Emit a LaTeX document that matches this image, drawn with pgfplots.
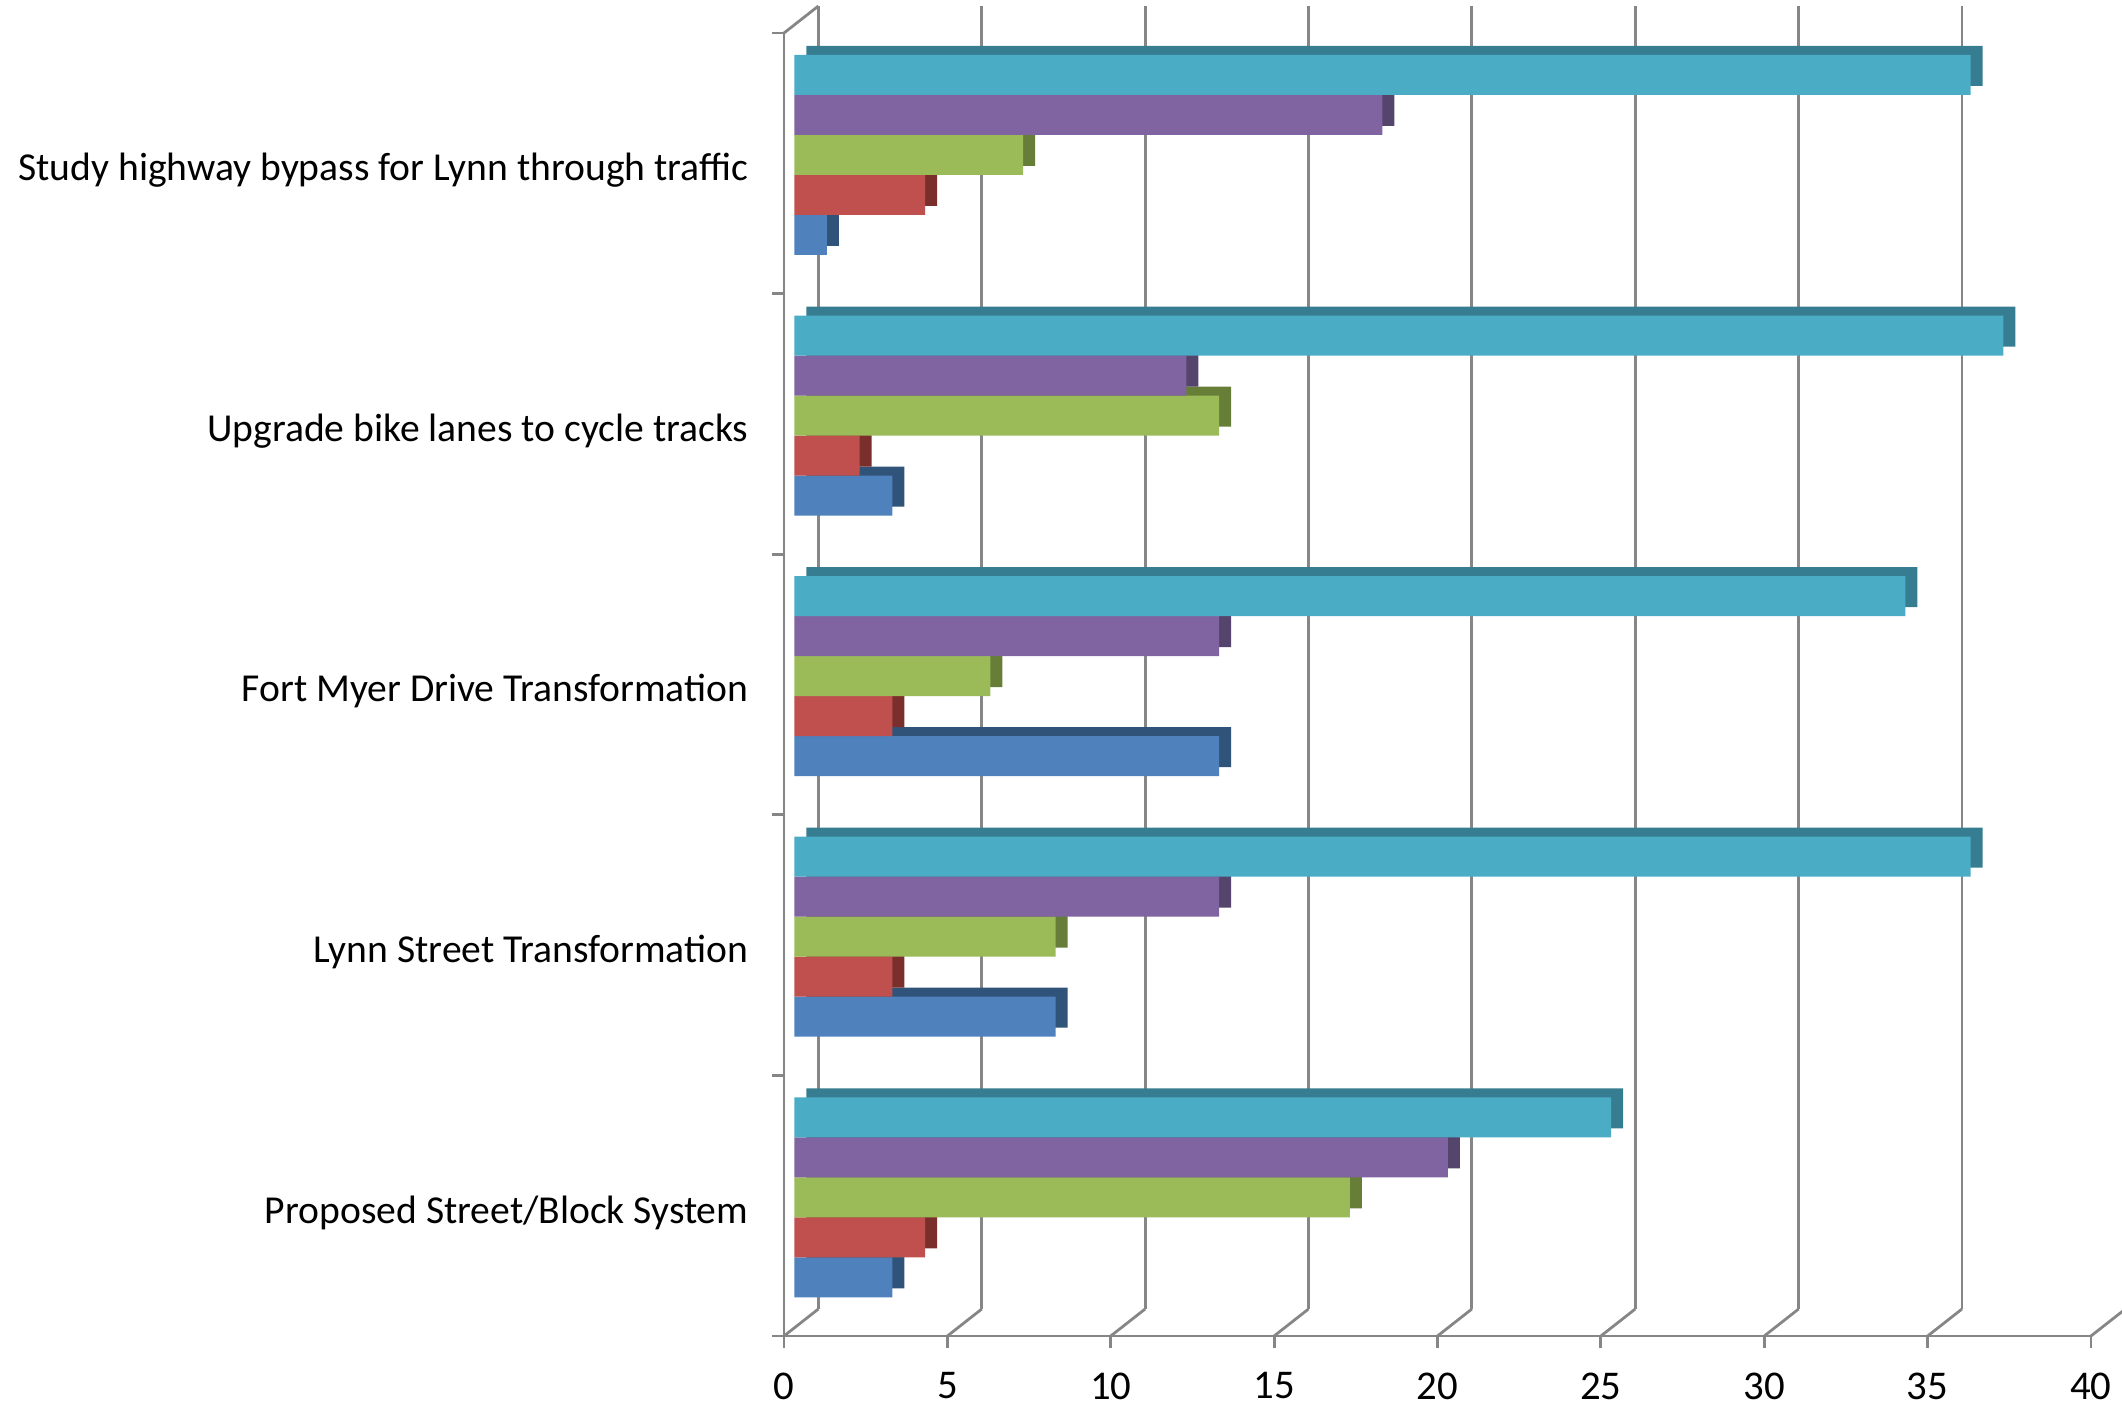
\documentclass[border=0pt]{standalone}
\usepackage{fontspec}
\setmainfont{Carlito}
\usepackage{pgfplots}
\pgfplotsset{compat=1.18}
\definecolor{gridc}{RGB}{134,134,134}
\definecolor{cBlue}{HTML}{4F81BD}\definecolor{dBlue}{HTML}{2F5379}
\definecolor{cRed}{HTML}{C0504D}\definecolor{dRed}{HTML}{7B2F2D}
\definecolor{cGreen}{HTML}{9BBB59}\definecolor{dGreen}{HTML}{667E38}
\definecolor{cPurple}{HTML}{8064A2}\definecolor{dPurple}{HTML}{55446C}
\definecolor{cCyan}{HTML}{4BACC6}\definecolor{dCyan}{HTML}{377D91}
\begin{document}
\begin{tikzpicture}
% back wall grid
\begin{axis}[
  at={(8.6pt,6.75pt)}, anchor=south west,
  scale only axis, width=326.75pt, height=325.75pt,
  xmin=0, xmax=40, ymin=-0.5, ymax=4.5,
  xtick={0,5,...,40}, xticklabels={}, ytick=\empty,
  major tick length=0pt,
  xmajorgrids, grid style={gridc, line width=0.7pt},
  axis line style={draw=none},
]
\addplot[draw=none] coordinates {(0,0)};
\end{axis}
% front axis with bars
\begin{axis}[
  at={(0,0)}, anchor=south west,
  scale only axis, width=326.75pt, height=325.75pt,
  xmin=0, xmax=40, ymin=-0.5, ymax=4.5,
  clip=false,
  axis lines*=left,
  axis line style={gridc, line width=0.7pt},
  tick style={gridc, line width=0.7pt},
  tick align=outside, major tick length=3pt,
  xtick={0,5,...,40},
  ytick={-0.5,0.5,1.5,2.5,3.5,4.5}, yticklabels={},
  extra y ticks={0,1,2,3,4},
  extra y tick labels={Proposed Street/Block System,Lynn Street Transformation,Fort Myer Drive Transformation,Upgrade bike lanes to cycle tracks,Study highway bypass for Lynn through traffic},
  extra y tick style={major tick length=0pt, yticklabel style={font=\fontsize{9.9}{12}\selectfont, text=black, anchor=east, xshift=-5.4pt, yshift=-1.7pt}},
  xticklabel style={font=\fontsize{10.2}{12}\selectfont, text=black, yshift=-2.6pt},
  /pgf/number format/assume math mode=true,
  xbar, bar width=0.1535,
]
% dark side/top faces
\addplot[fill=dBlue, draw=none, bar shift=-0.307, xshift=5.58pt, yshift=4.35pt] coordinates {(3,0) (8,1) (13,2) (3,3) (1,4)};
\addplot[fill=dRed, draw=none, bar shift=-0.1535, xshift=5.58pt, yshift=4.35pt] coordinates {(4,0) (3,1) (3,2) (2,3) (4,4)};
\addplot[fill=dGreen, draw=none, bar shift=0, xshift=5.58pt, yshift=4.35pt] coordinates {(17,0) (8,1) (6,2) (13,3) (7,4)};
\addplot[fill=dPurple, draw=none, bar shift=0.1535, xshift=5.58pt, yshift=4.35pt] coordinates {(20,0) (13,1) (13,2) (12,3) (18,4)};
\addplot[fill=dCyan, draw=none, bar shift=0.307, xshift=5.58pt, yshift=4.35pt] coordinates {(25,0) (36,1) (34,2) (37,3) (36,4)};
% front faces
\addplot[fill=cBlue, draw=none, bar shift=-0.307, xshift=2.58pt, yshift=2.1pt] coordinates {(3,0) (8,1) (13,2) (3,3) (1,4)};
\addplot[fill=cRed, draw=none, bar shift=-0.1535, xshift=2.58pt, yshift=2.1pt] coordinates {(4,0) (3,1) (3,2) (2,3) (4,4)};
\addplot[fill=cGreen, draw=none, bar shift=0, xshift=2.58pt, yshift=2.1pt] coordinates {(17,0) (8,1) (6,2) (13,3) (7,4)};
\addplot[fill=cPurple, draw=none, bar shift=0.1535, xshift=2.58pt, yshift=2.1pt] coordinates {(20,0) (13,1) (13,2) (12,3) (18,4)};
\addplot[fill=cCyan, draw=none, bar shift=0.307, xshift=2.58pt, yshift=2.1pt] coordinates {(25,0) (36,1) (34,2) (37,3) (36,4)};
% floor / side-wall edges
\pgfplotsinvokeforeach{0,5,...,40}{
  \draw[gridc, line width=0.7pt] (axis cs:#1,-0.5) -- ++(8.6pt,6.75pt);
}
\draw[gridc, line width=0.7pt] (axis cs:0,4.5) -- ++(8.6pt,6.75pt);
\end{axis}
\pgfresetboundingbox
\path (-196pt,-17.5pt) rectangle (334.5pt,334pt);
\end{tikzpicture}
\end{document}
